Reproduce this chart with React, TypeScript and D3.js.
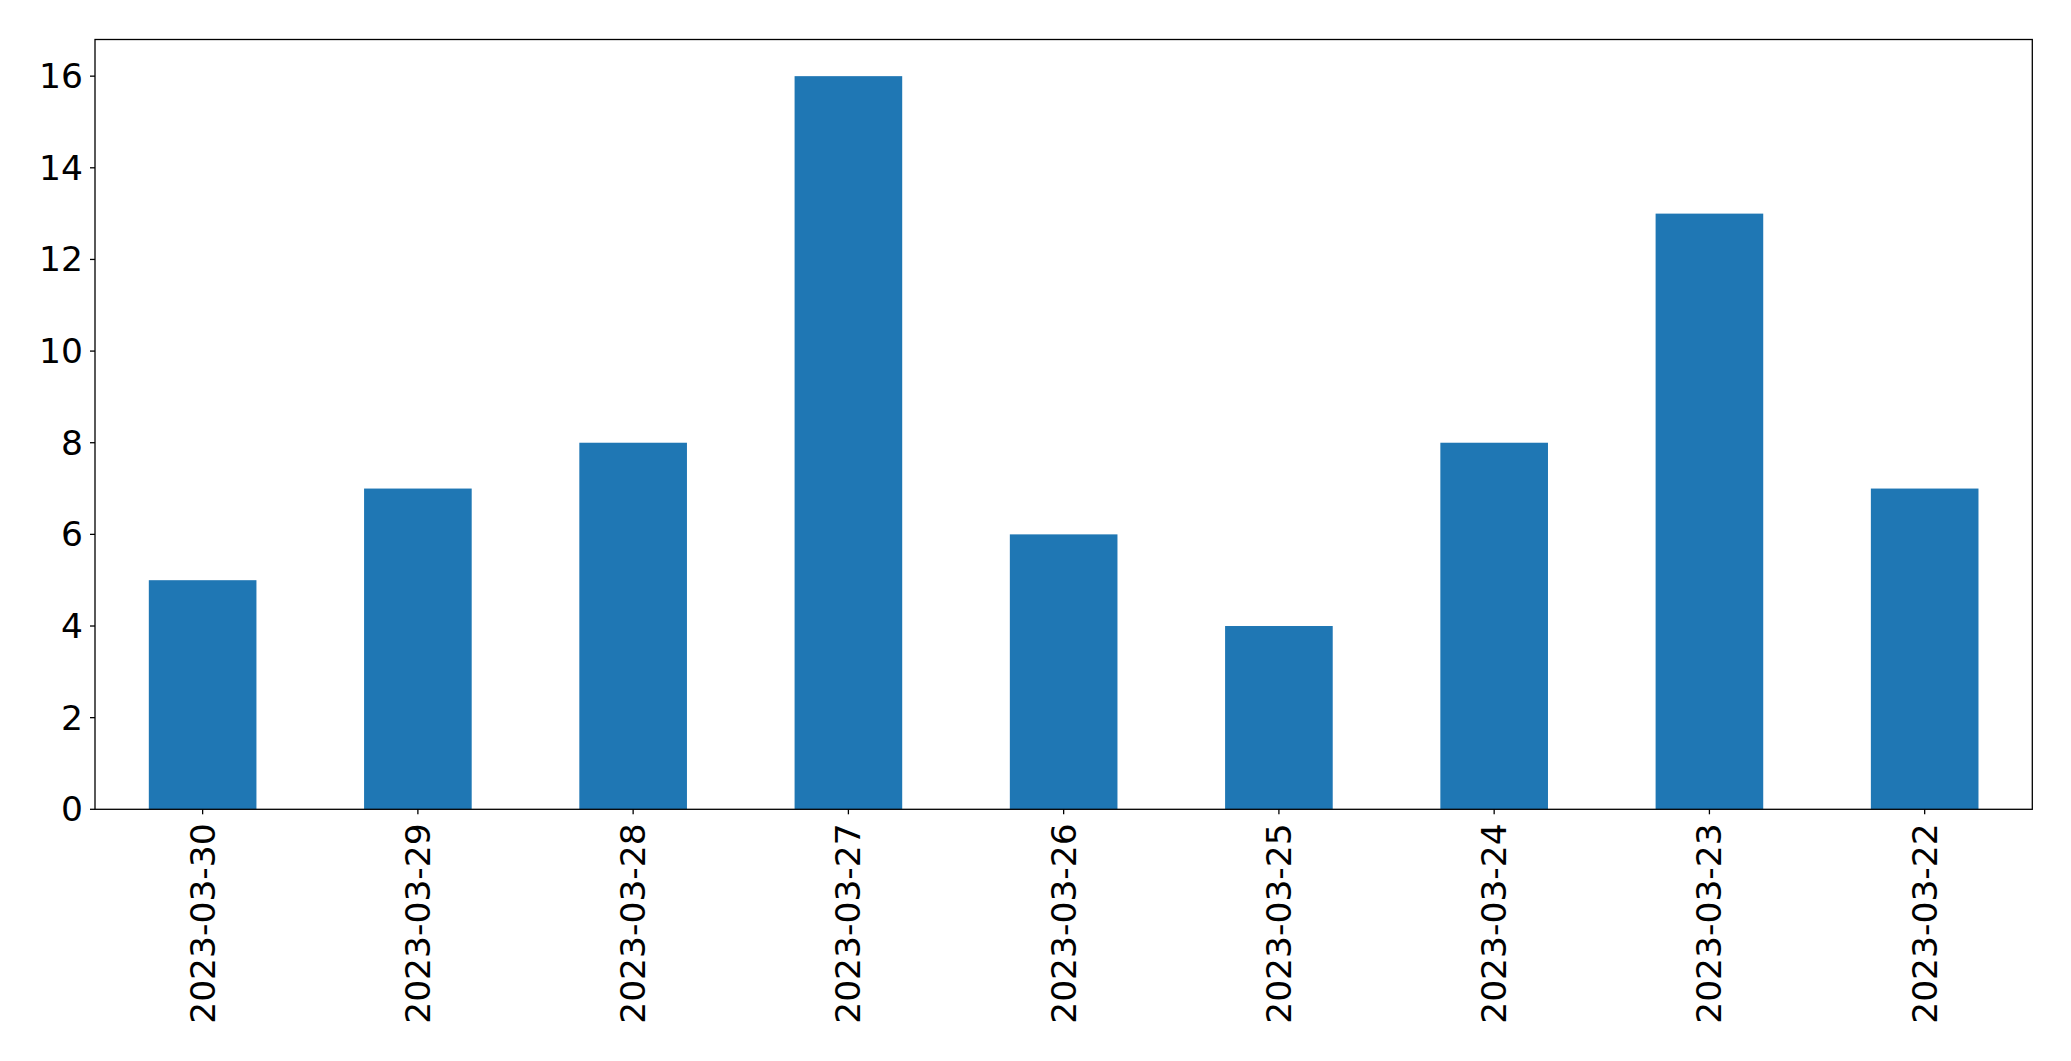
import React from "react";
import * as d3 from "d3";

const categories = ["2023-03-30","2023-03-29","2023-03-28","2023-03-27","2023-03-26","2023-03-25","2023-03-24","2023-03-23","2023-03-22"];
const values = [5, 7, 8, 16, 6, 4, 8, 13, 7];
const yTicks = [0, 2, 4, 6, 8, 10, 12, 14, 16];

const W = 2071, H = 1061;
const L = 95, R = 2032.3, T = 39.5, B = 809.3;
const FS = 34.5;
const FONT = "'DejaVu Sans', sans-serif";

export default function App() {
  const x = d3.scaleLinear().domain([-0.5, categories.length - 0.5]).range([L, R]);
  const y = d3.scaleLinear().domain([0, 16.8]).range([B, T]);
  const bw = x(0.25) - x(-0.25);
  return (
    <svg width={W} height={H} style={{ position: "absolute", left: 0, top: 0, background: "#fff" }}>
      <rect x={0} y={0} width={W} height={H} fill="#fff" />
      {values.map((v, i) => (
        <rect key={i} x={x(i) - bw / 2} y={y(v)} width={bw} height={y(0) - y(v)} fill="#1f77b4" />
      ))}
      <rect x={L} y={T} width={R - L} height={B - T} fill="none" stroke="#000" strokeWidth={1.3} />
      {yTicks.map((t) => (
        <g key={t}>
          <line x1={L - 5} x2={L} y1={y(t)} y2={y(t)} stroke="#000" strokeWidth={1.3} />
          <text x={L - 12} y={y(t)} textAnchor="end" dominantBaseline="central" fontSize={FS} fontFamily={FONT} fill="#000">{t}</text>
        </g>
      ))}
      {categories.map((c, i) => (
        <g key={c}>
          <line x1={x(i)} x2={x(i)} y1={B} y2={B + 5} stroke="#000" strokeWidth={1.3} />
          <text transform={`translate(${x(i)},${B + 14}) rotate(-90)`} textAnchor="end" dominantBaseline="central" fontSize={FS} fontFamily={FONT} fill="#000">{c}</text>
        </g>
      ))}
    </svg>
  );
}
